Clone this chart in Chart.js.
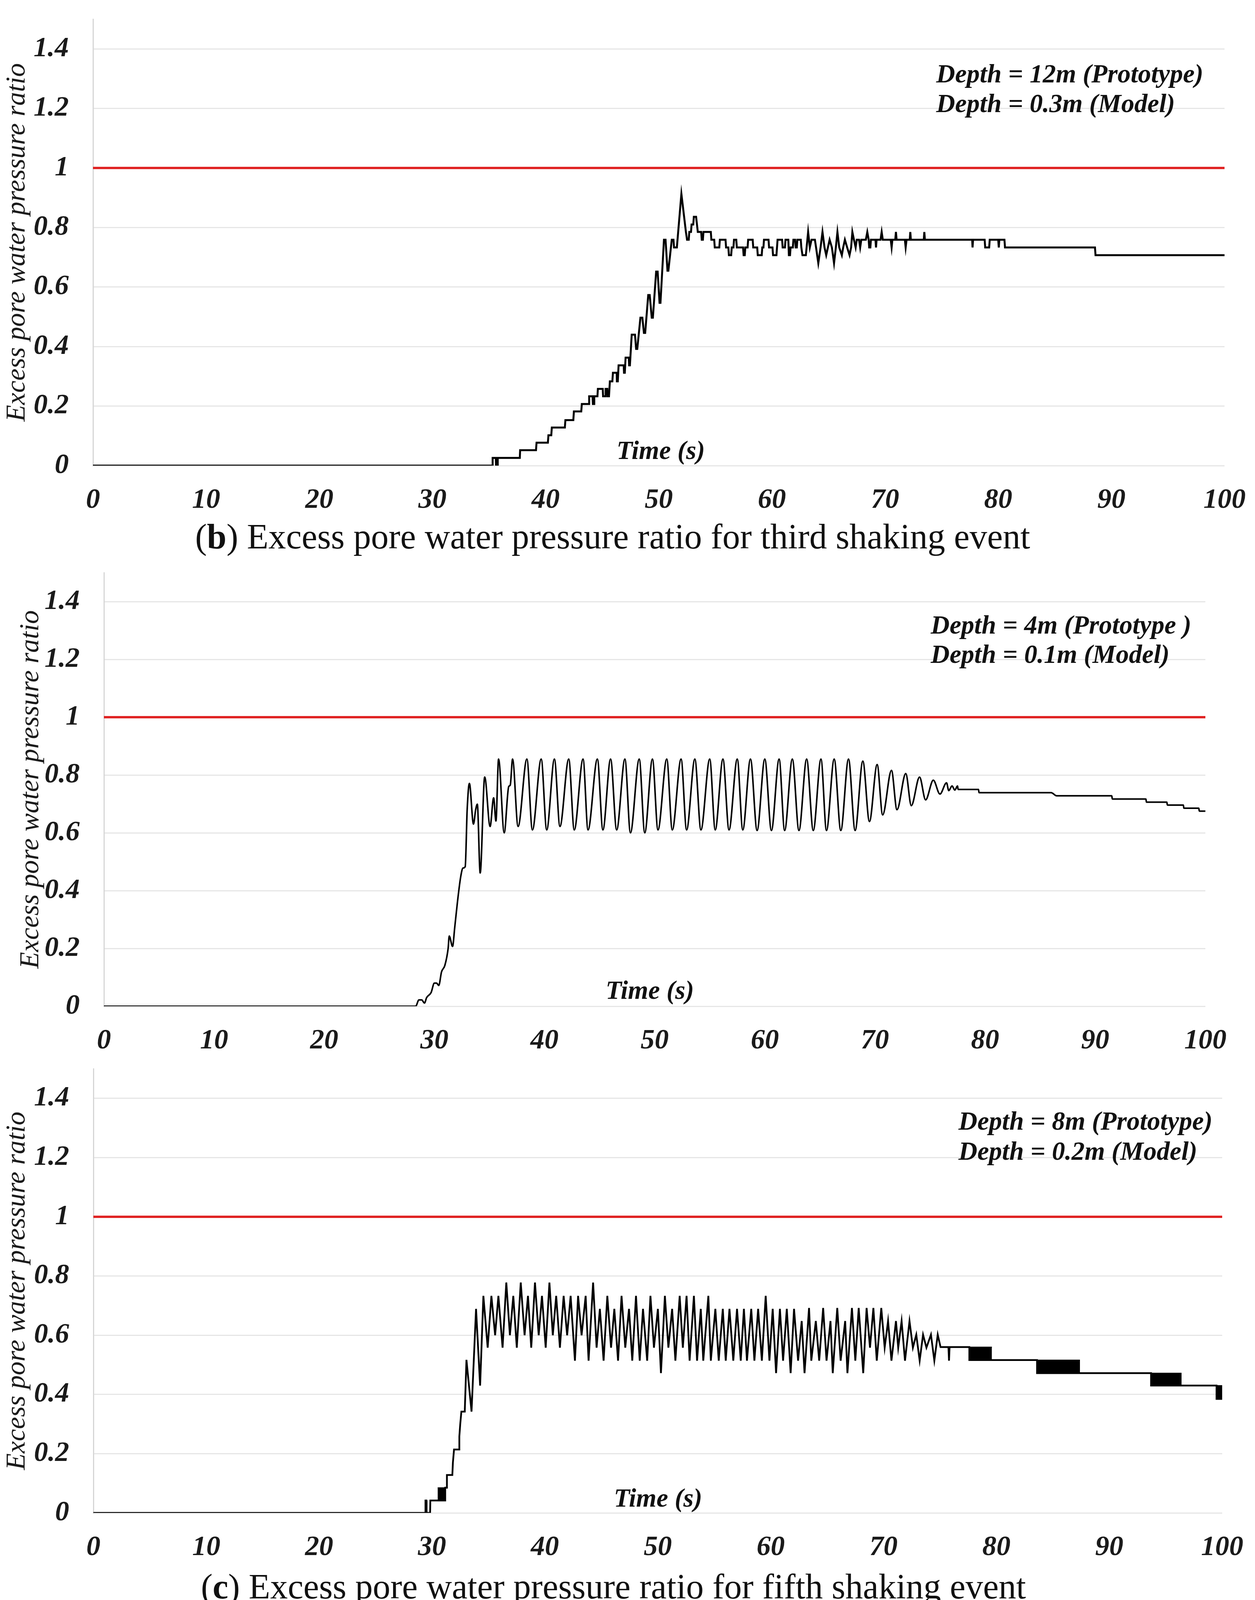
<!DOCTYPE html>
<html>
<head>
<meta charset="utf-8">
<script src="https://cdn.jsdelivr.net/npm/chart.js@4.4.1/dist/chart.umd.min.js"></script>
<style>
  body { margin: 0; background: #fff; width: 3212px; height: 4128px; position: relative; overflow: hidden; }
  canvas { position: absolute; left: 0; }
  .note { position: absolute; font: italic bold 67px "Liberation Serif", serif; color: #111; white-space: nowrap; line-height: 1; transform: translateY(-50%); }
  .cap { position: absolute; font: 90px "Liberation Serif", serif; color: #111; white-space: nowrap; line-height: 1; transform: translate(-50%, -50%); }
</style>
</head>
<body>
<canvas id="chart-b" width="3212" height="1320" style="top:0px"></canvas>
<canvas id="chart-m" width="3212" height="1300" style="top:1420px"></canvas>
<canvas id="chart-c" width="3212" height="1300" style="top:2700px"></canvas>

<div class="note" style="left:2396px;top:188px">Depth = 12m (Prototype)</div>
<div class="note" style="left:2396px;top:264px">Depth = 0.3m (Model)</div>
<div class="note" style="left:1578px;top:1152px">Time (s)</div>
<div class="cap" style="left:1568px;top:1374px">(<b>b</b>) Excess pore water pressure ratio for third shaking event</div>

<div class="note" style="left:2382px;top:1599px">Depth = 4m (Prototype )</div>
<div class="note" style="left:2382px;top:1674px">Depth = 0.1m (Model)</div>
<div class="note" style="left:1550px;top:2534px">Time (s)</div>

<div class="note" style="left:2453px;top:2869px">Depth = 8m (Prototype)</div>
<div class="note" style="left:2453px;top:2946px">Depth = 0.2m (Model)</div>
<div class="note" style="left:1571px;top:3834px">Time (s)</div>
<div class="cap" style="left:1570px;top:4062px">(<b>c</b>) Excess pore water pressure ratio for fifth shaking event</div>

<script>
// x ticks (time, s) and y ticks (ratio)
const timeTicks = [0, 10, 20, 30, 40, 50, 60, 70, 80, 90, 100];
const ratioTicks = [0, 0.2, 0.4, 0.6, 0.8, 1, 1.2, 1.4];
const limitLine = [[0, 1], [100, 1]];

// (b) third shaking event, depth 12 m : [time, ratio]
const thirdEvent = [
  [0,0],[35.3,0],[35.32,0.026],[35.6,0.026],[35.62,0],[35.75,0],[35.77,0.026],[37.72,0.026],[37.75,0.052],
  [39.15,0.052],[39.2,0.077],[40.2,0.077],[40.25,0.102],[40.5,0.102],[40.55,0.128],[41.7,0.128],[41.75,0.153],
  [42.45,0.153],[42.5,0.182],[43.15,0.182],[43.2,0.207],[43.82,0.207],[43.85,0.233],[44.15,0.233],[44.18,0.207],
  [44.28,0.207],[44.3,0.233],[44.58,0.233],[44.62,0.258],[45.05,0.258],[45.08,0.233],[45.28,0.233],[45.3,0.258],
  [45.45,0.258],[45.48,0.233],[45.6,0.233],[45.68,0.283],[45.9,0.283],[45.95,0.312],[46.28,0.312],[46.3,0.283],
  [46.38,0.283],[46.45,0.337],[46.9,0.337],[46.93,0.312],[47.0,0.312],[47.07,0.363],[47.35,0.363],[47.38,0.337],
  [47.45,0.337],[47.61,0.44],[47.9,0.44],[48.0,0.392],[48.1,0.392],[48.38,0.497],[48.55,0.497],[48.69,0.446],
  [48.8,0.446],[49.07,0.573],[49.2,0.573],[49.38,0.497],[49.48,0.497],[49.77,0.652],[49.9,0.652],[50.07,0.547],
  [50.15,0.547],[50.46,0.759],[50.6,0.759],[50.77,0.655],[50.85,0.655],[51.15,0.759],[51.3,0.759],[51.35,0.733],
  [51.6,0.733],[52.0,0.913],[52.4,0.785],[52.5,0.759],[52.65,0.759],[52.7,0.785],[52.85,0.785],[52.9,0.81],
  [53.05,0.81],[53.1,0.836],[53.3,0.836],[53.45,0.785],[53.75,0.785],[53.8,0.759],[53.9,0.759],[53.95,0.785],
  [54.6,0.785],[54.65,0.759],[54.9,0.759],[54.95,0.733],[55.35,0.733],[55.4,0.759],[55.9,0.759],[55.95,0.733],
  [56.15,0.733],[56.2,0.707],[56.4,0.707],[56.45,0.733],[56.6,0.733],[56.65,0.759],[56.85,0.759],[56.9,0.733],
  [57.45,0.733],[57.5,0.707],[57.6,0.707],[57.65,0.733],[57.85,0.733],[57.9,0.759],[58.3,0.759],[58.35,0.733],
  [58.7,0.733],[58.75,0.707],[59.1,0.707],[59.15,0.733],[59.25,0.733],[59.3,0.759],[59.7,0.759],[59.75,0.733],
  [60.05,0.733],[60.1,0.707],[60.4,0.707],[60.45,0.733],[60.5,0.759],[60.9,0.759],[60.95,0.733],[61.15,0.733],
  [61.2,0.759],[61.45,0.759],[61.5,0.707],[61.6,0.707],[61.65,0.733],[61.85,0.733],[61.9,0.759],[62.05,0.759],
  [62.1,0.733],[62.2,0.733],[62.25,0.759],[62.55,0.759],[62.6,0.733],[62.7,0.707],[63.0,0.707],[63.2,0.785],
  [63.35,0.733],[63.5,0.759],[63.8,0.759],[63.9,0.733],[64.1,0.68],[64.3,0.733],[64.47,0.785],[64.65,0.733],
  [64.8,0.707],[64.95,0.733],[65.1,0.759],[65.3,0.733],[65.49,0.68],[65.65,0.733],[65.79,0.785],[65.95,0.733],
  [66.18,0.707],[66.3,0.733],[66.45,0.759],[66.65,0.733],[66.86,0.707],[67.0,0.733],[67.11,0.785],[67.25,0.759],
  [67.4,0.733],[67.5,0.759],[67.7,0.759],[67.8,0.733],[67.9,0.759],[68.3,0.759],[68.43,0.785],[68.55,0.759],
  [68.6,0.733],[68.7,0.733],[68.75,0.759],[69.15,0.759],[69.2,0.733],[69.25,0.759],[69.6,0.759],[69.7,0.785],
  [69.8,0.759],[70.5,0.759],[70.58,0.733],[70.65,0.759],[70.9,0.759],[70.96,0.785],[71.02,0.759],[71.75,0.759],
  [71.82,0.733],[71.9,0.759],[72.18,0.759],[72.23,0.785],[72.28,0.759],[73.42,0.759],[73.47,0.785],[73.52,0.759],
  [77.7,0.759],[77.73,0.733],[77.78,0.759],[78.8,0.759],[78.85,0.733],[79.2,0.733],[79.25,0.759],[80.0,0.759],
  [80.05,0.733],[80.1,0.759],[80.55,0.759],[80.6,0.733],[88.55,0.733],[88.6,0.707],[100,0.707]
];

// middle panel, depth 4 m
const shallowEvent = [
  [0,0],[28.3,0],[28.6,0.022],[28.85,0.022],[29.1,0.011],[29.3,0.03],[29.7,0.047],[30.0,0.08],[30.2,0.08],
  [30.4,0.072],[30.65,0.119],[30.95,0.141],[31.25,0.2],[31.35,0.243],[31.65,0.207],[31.85,0.273],[32.1,0.362],
  [32.4,0.45],[32.6,0.478],[32.8,0.483],[32.98,0.682],[33.18,0.771],[33.55,0.63],[33.75,0.68],[33.9,0.699],
  [34.16,0.461],[34.57,0.793],[35.06,0.622],[35.38,0.721],[35.59,0.641],[35.83,0.855],[36.34,0.6],[36.75,0.76],
  [36.89,0.765],[37.1,0.855],[37.6,0.622],[38.4,0.855],[38.9,0.61],[39.7,0.855],[40.2,0.61],[40.9,0.855],
  [41.4,0.622],[42.2,0.855],[42.7,0.61],[43.5,0.855],[43.95,0.61],[44.8,0.855],[45.3,0.61],[46.0,0.855],
  [46.55,0.61],[47.3,0.855],[47.8,0.6],[48.6,0.855],[49.1,0.6],[49.8,0.855],[50.3,0.61],[51.1,0.855],
  [51.6,0.61],[52.4,0.855],[52.9,0.61],[53.65,0.855],[54.2,0.61],[55.0,0.855],[55.5,0.61],[56.2,0.855],
  [56.75,0.61],[57.5,0.855],[58.0,0.61],[58.7,0.855],[59.3,0.608],[60.0,0.855],[60.6,0.608],[61.3,0.855],
  [61.8,0.608],[62.5,0.855],[63.1,0.608],[63.8,0.855],[64.4,0.608],[65.1,0.855],[65.6,0.608],[66.3,0.855],
  [66.9,0.608],[67.6,0.855],[68.2,0.608],[68.9,0.848],[69.5,0.639],[70.2,0.836],[70.7,0.662],[71.5,0.816],
  [72.0,0.68],[72.8,0.805],[73.3,0.694],[74.05,0.793],[74.6,0.714],[75.3,0.782],[75.9,0.734],[76.5,0.773],
  [76.7,0.746],[77.0,0.762],[77.25,0.748],[77.5,0.762],[77.55,0.75],[79.4,0.75],[79.45,0.739],[86.0,0.739],
  [86.5,0.728],[91.5,0.728],[91.55,0.717],[94.6,0.717],[94.65,0.706],[96.5,0.706],[96.55,0.696],[98.0,0.696],
  [98.05,0.685],[99.4,0.685],[99.45,0.675],[100,0.675]
];

// (c) fifth shaking event, depth 8 m
const fifthEvent = [
  [0,0],[29.4,0],[29.42,0.042],[29.5,0.042],[29.52,0],[29.83,0],[29.85,0.042],[30.5,0.042],[31.17,0.042],
  [31.17,0.085],[31.3,0.085],[31.32,0.128],[31.8,0.128],[31.85,0.17],[31.95,0.214],[32.4,0.214],[32.42,0.258],
  [32.5,0.3],[32.6,0.342],[32.9,0.342],[33.05,0.517],[33.5,0.342],[33.9,0.689],[34.26,0.43],[34.55,0.733],
  [34.93,0.558],[35.26,0.733],[35.59,0.6],[35.88,0.733],[36.25,0.558],[36.58,0.778],[36.9,0.6],[37.2,0.733],
  [37.51,0.558],[37.86,0.778],[38.2,0.6],[38.5,0.733],[38.79,0.558],[39.12,0.778],[39.45,0.6],[39.74,0.733],
  [40.07,0.558],[40.4,0.778],[40.7,0.6],[41.0,0.733],[41.33,0.558],[41.66,0.733],[41.97,0.6],[42.28,0.733],
  [42.66,0.514],[42.94,0.733],[43.25,0.6],[43.61,0.733],[43.87,0.514],[44.27,0.778],[44.58,0.558],[44.87,0.689],
  [45.2,0.514],[45.53,0.733],[45.86,0.558],[46.15,0.689],[46.48,0.514],[46.79,0.733],[47.12,0.558],[47.45,0.689],
  [47.74,0.514],[48.07,0.733],[48.4,0.514],[48.69,0.689],[49.06,0.514],[49.35,0.733],[49.66,0.558],[50.01,0.689],
  [50.28,0.472],[50.63,0.733],[50.94,0.558],[51.27,0.689],[51.56,0.514],[51.94,0.733],[52.22,0.558],[52.55,0.733],
  [52.82,0.514],[53.2,0.733],[53.48,0.514],[53.81,0.689],[54.03,0.514],[54.48,0.733],[54.7,0.514],[55.1,0.689],
  [55.4,0.514],[55.76,0.689],[56.02,0.514],[56.35,0.689],[56.69,0.514],[57.02,0.689],[57.35,0.514],[57.63,0.689],
  [57.9,0.514],[58.28,0.689],[58.56,0.514],[58.89,0.689],[59.22,0.514],[59.56,0.733],[59.89,0.514],[60.18,0.689],
  [60.48,0.472],[60.82,0.689],[61.1,0.514],[61.43,0.689],[61.77,0.472],[62.07,0.689],[62.43,0.514],[62.75,0.648],
  [63.0,0.472],[63.4,0.692],[63.6,0.514],[64.0,0.648],[64.3,0.514],[64.65,0.692],[64.95,0.514],[65.3,0.648],
  [65.5,0.472],[65.9,0.692],[66.2,0.514],[66.6,0.648],[66.8,0.472],[67.2,0.692],[67.5,0.514],[67.8,0.692],
  [68.2,0.472],[68.5,0.692],[68.8,0.558],[69.1,0.692],[69.4,0.514],[69.8,0.692],[70.1,0.558],[70.4,0.648],
  [70.7,0.514],[71.1,0.648],[71.3,0.558],[71.6,0.648],[71.9,0.514],[72.3,0.648],[72.6,0.558],[72.9,0.602],
  [73.2,0.514],[73.5,0.602],[73.8,0.558],[74.2,0.602],[74.5,0.514],[74.8,0.602],[75.05,0.56],[75.75,0.56],
  [75.8,0.514],[75.85,0.56],[77.6,0.56],[77.6,0.516],[83.6,0.516],[83.6,0.472],[93.7,0.472],[93.7,0.43],
  [99.5,0.43],[99.5,0.385],[100,0.385]
];

// solid black bands in (c) where the record chatters between two levels
const bandStart = [30.5, 77.6, 83.6, 93.7, 99.5];
const bandEnd   = [31.17, 79.6, 87.4, 96.4, 100];
const bandLow   = [0.042, 0.516, 0.472, 0.43, 0.385];
const bandHigh  = [0.085, 0.56, 0.516, 0.472, 0.43];

Chart.defaults.font.family = '"Liberation Serif", serif';

const tickFont = { family: '"Liberation Serif", serif', size: 72, style: "italic", weight: "bold" };

function pts(arr) {
  return arr.map(([x, y]) => ({ x, y }));
}

// keep the plot box exactly where it is in the picture
function noEdgePadding(s) {
  s.paddingTop = 0;
  s.paddingBottom = 0;
  s.paddingLeft = 0;
  s.paddingRight = 0;
}

function buildChart(id, series, lineWidth, box, titlePad, smooth, bands = []) {
  const canvas = document.getElementById(id);
  const datasets = [
    {
      data: pts(series),
      borderColor: "#000",
      borderWidth: lineWidth,
      pointRadius: 0,
      cubicInterpolationMode: smooth ? "monotone" : "default",
      tension: 0,
      fill: false,
    },
    {
      data: pts(limitLine),
      borderColor: "#e02424",
      borderWidth: 6,
      pointRadius: 0,
      fill: false,
    },
  ];
  for (const b of bands) {
    datasets.push({
      data: [{ x: b.start, y: b.high }, { x: b.end, y: b.high }],
      borderColor: "#000",
      borderWidth: 2,
      backgroundColor: "#000",
      pointRadius: 0,
      fill: { value: b.low },
    });
  }

  return new Chart(canvas, {
    type: "line",
    data: { datasets },
    options: {
      responsive: false,
      animation: false,
      devicePixelRatio: 1,
      layout: { padding: { left: 0, top: box.top, right: canvas.width - box.right, bottom: 0 } },
      plugins: { legend: { display: false }, tooltip: { enabled: false } },
      scales: {
        x: {
          type: "linear",
          min: timeTicks[0],
          max: timeTicks[timeTicks.length - 1],
          afterBuildTicks: axis => { axis.ticks = timeTicks.map(v => ({ value: v })); },
          afterFit: s => { s.height = canvas.height - box.bottom; noEdgePadding(s); },
          grid: { display: false, drawTicks: false },
          border: { display: false },
          ticks: { font: tickFont, color: "#1a1a1a", padding: 46, maxRotation: 0, autoSkip: false },
        },
        y: {
          min: 0,
          max: 1.5,
          afterBuildTicks: axis => { axis.ticks = ratioTicks.map(v => ({ value: v })); },
          afterFit: s => { s.width = box.left; noEdgePadding(s); },
          grid: { color: "#e6e6e6", lineWidth: 3, drawTicks: false },
          border: { display: true, color: "#d6d6d6", width: 3 },
          ticks: {
            font: tickFont,
            color: "#1a1a1a",
            padding: 62,
            callback: v => String(Math.round(v * 10) / 10),
          },
          title: {
            display: true,
            text: "Excess pore water pressure ratio",
            color: "#1a1a1a",
            font: { family: '"Liberation Serif", serif', size: 70, style: "italic" },
            padding: { top: titlePad, bottom: 0 },
          },
        },
      },
    },
  });
}

const bands = bandStart.map((s, i) => ({ start: s, end: bandEnd[i], low: bandLow[i], high: bandHigh[i] }));

buildChart("chart-b", thirdEvent, 5, { left: 238, top: 49, right: 3134, bottom: 1192 }, 3, false);
buildChart("chart-m", shallowEvent, 4, { left: 266, top: 46, right: 3085, bottom: 1156 }, 38, true);
buildChart("chart-c", fifthEvent, 4.5, { left: 239, top: 36, right: 3128, bottom: 1173 }, 3, false, bands);
</script>
</body>
</html>
